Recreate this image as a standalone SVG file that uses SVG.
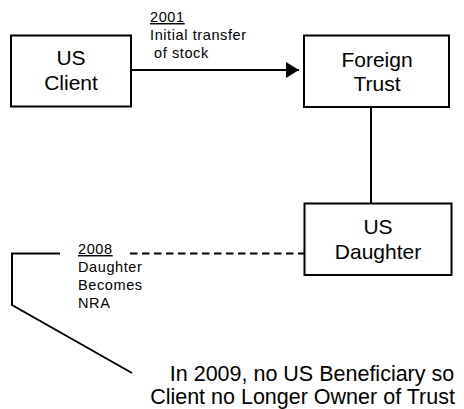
<svg xmlns="http://www.w3.org/2000/svg" width="464" height="409" viewBox="0 0 464 409">
<defs>
<style>
.box{fill:#fff;stroke:#000;stroke-width:2}
.ln{fill:none;stroke:#000;stroke-width:2}
.lbl{font-family:"Liberation Sans",Arial,sans-serif;font-size:21px;fill:#000;text-anchor:middle}
.note{font-family:"Liberation Sans",Arial,sans-serif;font-size:21.5px;fill:#000;text-anchor:middle}
.ann{font-family:"Liberation Sans",Arial,sans-serif;font-size:14.5px;letter-spacing:0.6px;fill:#000}
</style>
<marker id="ah" markerWidth="13" markerHeight="16" refX="13" refY="8" orient="auto" markerUnits="userSpaceOnUse">
<path d="M0,0 L13,8 L0,16 z" fill="#000"/>
</marker>
</defs>
<rect width="464" height="409" fill="#fff"/>
<g id="connectors">
<line class="ln" x1="131" y1="70" x2="299" y2="70" marker-end="url(#ah)"/>
<line class="ln" x1="371" y1="107" x2="371" y2="203"/>
<line class="ln" x1="130" y1="253.5" x2="304" y2="253.5" stroke-dasharray="7.5,4.5"/>
<polyline class="ln" points="60,253.5 12,253.5 12,305 132,373"/>
</g>
<g id="us-client">
<rect class="box" x="11" y="35.5" width="120" height="71"/>
<text class="lbl" x="71" y="64.5">US</text>
<text class="lbl" x="71" y="90">Client</text>
</g>
<g id="foreign-trust">
<rect class="box" x="304" y="35.5" width="145" height="71.5"/>
<text class="lbl" x="377" y="66.5">Foreign</text>
<text class="lbl" x="377" y="90.5">Trust</text>
</g>
<g id="us-daughter">
<rect class="box" x="304.5" y="203.5" width="147" height="71.5"/>
<text class="lbl" x="378" y="234">US</text>
<text class="lbl" x="378" y="258.5">Daughter</text>
</g>
<g id="label-2001">
<text class="ann" x="150" y="22" text-decoration="underline">2001</text>
<text class="ann" x="150" y="40">Initial transfer</text>
<text class="ann" x="154" y="58">of stock</text>
</g>
<g id="label-2008">
<text class="ann" x="78" y="254" text-decoration="underline">2008</text>
<text class="ann" x="78" y="272">Daughter</text>
<text class="ann" x="78" y="290">Becomes</text>
<text class="ann" x="78" y="308">NRA</text>
</g>
<g id="note-2009">
<text class="note" x="312" y="381">In 2009, no US Beneficiary so</text>
<text class="note" x="302.5" y="403.5">Client no Longer Owner of Trust</text>
</g>
</svg>
